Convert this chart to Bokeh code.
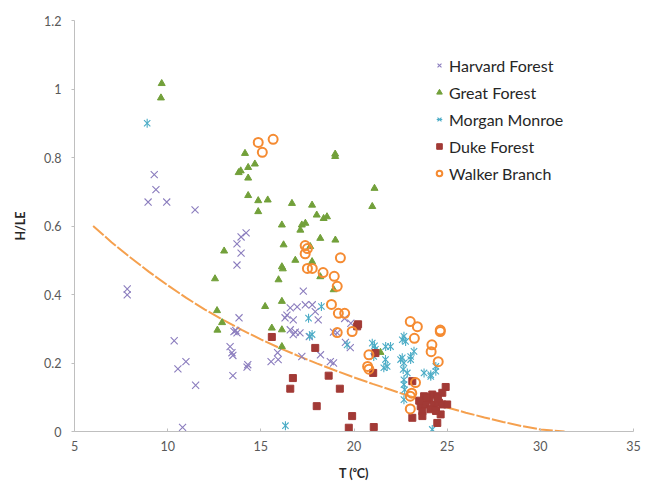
import math
from bokeh.plotting import figure
from bokeh.models import FixedTicker, Legend, LegendItem, Range1d
from bokeh.embed import file_html
from bokeh.resources import INLINE

# ---------------- data ----------------
harvard_x = [8.95, 9.28, 9.37, 9.95, 11.47, 7.83, 7.83, 10.35, 10.55, 10.98, 11.5, 10.8,
             14.21, 13.94, 13.72, 13.94, 13.72, 13.83, 13.56, 13.72, 13.65, 13.35, 13.45,
             13.5, 13.5, 14.3, 14.26, 15.55, 15.9, 15.93, 17.28, 16.58, 16.95, 17.39, 17.76,
             17.92, 16.3, 16.74, 16.4, 16.58, 16.85, 17.1, 16.74, 18.08, 17.6, 18.9, 19.1,
             19.54, 19.8, 17.2, 18.2, 18.73, 18.9, 19.5, 19.83]
harvard_y = [0.67, 0.75, 0.706, 0.67, 0.647, 0.416, 0.399, 0.265, 0.183, 0.204, 0.135, 0.012,
             0.58, 0.568, 0.548, 0.521, 0.486, 0.332, 0.292, 0.288, 0.295, 0.248, 0.23,
             0.222, 0.163, 0.195, 0.188, 0.204, 0.23, 0.21, 0.41, 0.361, 0.364, 0.37, 0.37,
             0.35, 0.332, 0.326, 0.34, 0.297, 0.29, 0.288, 0.283, 0.326, 0.277, 0.29, 0.288,
             0.26, 0.245, 0.219, 0.224, 0.204, 0.2, 0.33, 0.316]

great_x = [9.68, 9.64, 14.15, 13.81, 13.92, 14.32, 14.32, 14.68, 14.32, 14.86, 14.86, 15.37,
           16.67, 17.75, 20.98, 21.1, 16.13, 17.2, 17.39, 18.0, 18.37, 18.55, 17.12, 18.19,
           19.0, 16.22, 17.65, 16.85, 17.75, 16.13, 16.18, 15.95, 18.19, 18.91, 15.23, 16.13,
           15.59, 16.13, 16.13, 21.42, 18.99, 18.99, 13.03, 12.54, 12.65, 12.92, 12.67]
great_y = [1.016, 0.974, 0.812, 0.756, 0.761, 0.771, 0.74, 0.781, 0.689, 0.674, 0.642, 0.676,
           0.666, 0.661, 0.657, 0.71, 0.603, 0.603, 0.608, 0.632, 0.622, 0.627, 0.588, 0.564,
           0.559, 0.545, 0.54, 0.5, 0.496, 0.481, 0.475, 0.443, 0.452, 0.414, 0.365, 0.38,
           0.302, 0.297, 0.248, 0.231, 0.81, 0.803, 0.527, 0.446, 0.353, 0.318, 0.296]

morgan_x = [8.9, 16.32, 18.25, 17.56, 17.62, 17.75, 19.63, 20.98, 21.1, 21.15, 21.7, 21.96,
            21.6, 21.78, 21.69, 21.06, 22.68, 22.77, 22.59, 22.59, 22.68, 22.64, 22.86, 22.5,
            23.04, 22.68, 22.68, 22.72, 23.04, 23.22, 23.76, 24.12, 24.39, 24.2, 22.68, 24.12,
            24.39]
morgan_y = [0.9, 0.017, 0.365, 0.331, 0.278, 0.283, 0.253, 0.258, 0.25, 0.24, 0.248, 0.248,
            0.186, 0.19, 0.21, 0.219, 0.278, 0.263, 0.268, 0.215, 0.2, 0.181, 0.171, 0.21,
            0.21, 0.151, 0.137, 0.122, 0.219, 0.234, 0.171, 0.166, 0.19, 0.006, 0.093, 0.161,
            0.176]

duke_x = [15.59, 17.92, 20.17, 20.22, 16.72, 16.58, 18.64, 19.24, 18.0, 19.9, 19.72, 21.06,
          21.03, 21.15, 23.13, 23.76, 24.03, 24.2, 24.47, 24.74, 24.92, 23.58, 23.85, 24.29,
          24.56, 24.74, 25.0, 23.67, 23.67, 24.65, 23.13, 24.47, 23.5, 24.1, 24.4, 23.9, 24.5]
duke_y = [0.276, 0.244, 0.307, 0.313, 0.156, 0.125, 0.163, 0.125, 0.074, 0.045, 0.011, 0.013,
          0.171, 0.229, 0.147, 0.103, 0.093, 0.108, 0.103, 0.113, 0.13, 0.074, 0.079, 0.079,
          0.084, 0.079, 0.079, 0.059, 0.045, 0.05, 0.04, 0.025, 0.09, 0.065, 0.06, 0.1, 0.095]

walker_x = [14.86, 15.08, 15.66, 17.38, 17.5, 17.38, 19.27, 17.5, 17.76, 18.34, 18.94, 19.1,
            18.79, 19.16, 19.5, 19.1, 19.9, 20.8, 20.73, 20.8, 23.02, 23.4, 23.24, 24.63,
            24.63, 24.18, 24.14, 24.52, 23.3, 23.1, 23.02, 23.02]
walker_y = [0.844, 0.815, 0.853, 0.543, 0.534, 0.519, 0.507, 0.476, 0.476, 0.464, 0.453, 0.424,
            0.371, 0.345, 0.345, 0.289, 0.292, 0.224, 0.19, 0.182, 0.321, 0.306, 0.272, 0.296,
            0.292, 0.253, 0.233, 0.204, 0.143, 0.112, 0.103, 0.066]

trend_x = [6, 7, 8, 9, 10, 11, 12, 13, 14, 15, 16, 17, 18, 19, 20, 21, 22, 23, 24, 25,
           26, 27, 28, 29, 30, 31.3]
trend_y = [0.600, 0.552, 0.508, 0.466, 0.427, 0.390, 0.356, 0.325, 0.296, 0.269, 0.244,
           0.221, 0.199, 0.178, 0.158, 0.139, 0.121, 0.103, 0.086, 0.070, 0.055, 0.041,
           0.028, 0.016, 0.006, 0.0]

x_ticks = [5, 10, 15, 20, 25, 30, 35]
y_ticks = [0, 0.2, 0.4, 0.6, 0.8, 1, 1.2]
y_tick_labels = ["0", "0.2", "0.4", "0.6", "0.8", "1", "1.2"]
series_names = ["Harvard Forest", "Great Forest", "Morgan Monroe", "Duke Forest", "Walker Branch"]

FONT = "Lato"
TICK_COLOR = "#595959"
AXIS_COLOR = "#BFBFBF"

p = figure(width=650, height=483, output_backend="svg", toolbar_location=None,
           x_range=Range1d(5, 35), y_range=Range1d(0, 1.2),
           min_border_left=74, min_border_right=17, min_border_top=20, min_border_bottom=51)
p.outline_line_color = None
p.xgrid.visible = False
p.ygrid.visible = False

# axes
p.xaxis.ticker = FixedTicker(ticks=x_ticks)
p.yaxis.ticker = FixedTicker(ticks=y_ticks)
p.yaxis.major_label_overrides = dict(zip(y_ticks, y_tick_labels))
for ax in (p.xaxis[0], p.yaxis[0]):
    ax.axis_line_color = AXIS_COLOR
    ax.major_tick_line_color = AXIS_COLOR
    ax.minor_tick_line_color = None
    ax.major_label_text_font = FONT
    ax.major_label_text_font_size = "12.5px"
    ax.major_label_text_color = TICK_COLOR
    ax.axis_label_text_font = FONT
    ax.axis_label_text_font_style = "bold"
    ax.axis_label_text_font_size = "12.5px"
    ax.axis_label_text_color = "#262626"
p.xaxis.major_tick_in = 3
p.xaxis.major_tick_out = 0
p.xaxis.major_label_standoff = 9
p.xaxis.axis_label = "T (\u2070C)"
p.xaxis.axis_label_standoff = 12
p.yaxis.major_tick_in = 0
p.yaxis.major_tick_out = 3
p.yaxis.major_label_standoff = 10
p.yaxis.axis_label = "H/LE"
p.yaxis.axis_label_standoff = 13

# trend line
p.line(trend_x, trend_y, line_color="#F5A04E", line_width=2, line_dash="14 2")

# series
r_h = p.scatter(harvard_x, harvard_y, marker="x", size=10, line_color="#8B7DBE", line_width=1.1)
r_g = p.scatter(great_x, great_y, marker="triangle", size=7, fill_color="#72A03A",
                line_color="#72A03A")
r_m1 = p.scatter(morgan_x, morgan_y, marker="x", size=9, line_color="#4BACC6", line_width=1.1)
r_m2 = p.scatter(morgan_x, morgan_y, marker="dash", size=9, angle=math.pi / 2,
                 line_color="#4BACC6", line_width=1.1)
r_d = p.scatter(duke_x, duke_y, marker="square", size=7, fill_color="#A23A36",
                line_color="#A23A36")
r_w = p.scatter(walker_x, walker_y, marker="circle", size=9, fill_color=None,
                line_color="#F58B32", line_width=2)

legend = Legend(items=[
    LegendItem(label=series_names[0], renderers=[r_h]),
    LegendItem(label=series_names[1], renderers=[r_g]),
    LegendItem(label=series_names[2], renderers=[r_m1, r_m2]),
    LegendItem(label=series_names[3], renderers=[r_d]),
    LegendItem(label=series_names[4], renderers=[r_w]),
], location=(358, 248), border_line_color=None, background_fill_alpha=0,
    label_text_font=FONT, label_text_font_size="16px", label_text_color="#262626",
    glyph_width=14, glyph_height=14, label_height=20, spacing=7, padding=5, margin=0,
    label_standoff=3)
p.add_layout(legend)

open("out.html", "w").write(file_html(p, INLINE))
